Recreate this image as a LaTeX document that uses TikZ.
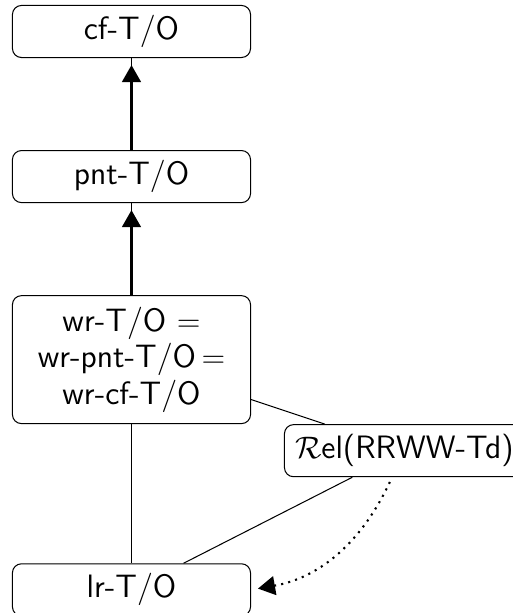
\documentclass[tikz,border=0pt]{standalone}
\usepackage{tikz}
\usetikzlibrary{arrows.meta,positioning,calc}

\begin{document}
\begin{tikzpicture}[
  font=\sffamily\fontsize{12.5}{14.1}\selectfont, node distance=35.5pt,
  box/.style={draw,fill=white,rounded corners=3.5pt,align=center,inner sep=2pt,minimum width=91.9pt,minimum height=20.1pt,line width=0.4pt},
  lnk/.style={line width=0.4pt},
  arr/.style={-{Triangle[length=6.6pt,width=7.3pt]},thick,shorten >=2.7pt},
  darr/.style={arr,dotted,shorten <=2pt}]
\node[box] (cf) {cf-T/O};
\node[box,below=of cf] (pnt) {pnt-T/O};
\node[box,below=of pnt,minimum height=49.4pt] (wr) {wr-T/O $=$\\wr-pnt-T/O\,$=$\\wr-cf-T/O};
\node[box,below=53.7pt of wr] (lr) {lr-T/O};
\node[box,inner xsep=1pt,minimum width=92.6pt,below right=0pt and 12.7pt of wr.south east] (rel) {$\mathcal{R}$el(RRWW-Td)};
% thin links between the boxes
\draw[lnk] (cf) -- (pnt); \draw[lnk] (pnt) -- (wr); \draw[lnk] (wr) -- (lr);
\draw[lnk] (wr) -- (rel); \draw[lnk] (rel) -- (lr);
% upward arrows
\draw[arr] (pnt) -- (cf); \draw[arr] (wr) -- (pnt);
\draw[darr] (rel) to[out=-115,in=10] (lr.east);
% page frame, cuts the right box
\pgfresetboundingbox
\useasboundingbox ($(cf.north west)+(-4.6pt,1.9pt)$) rectangle ++(198pt,-236.6pt);
\end{tikzpicture}
\end{document}
